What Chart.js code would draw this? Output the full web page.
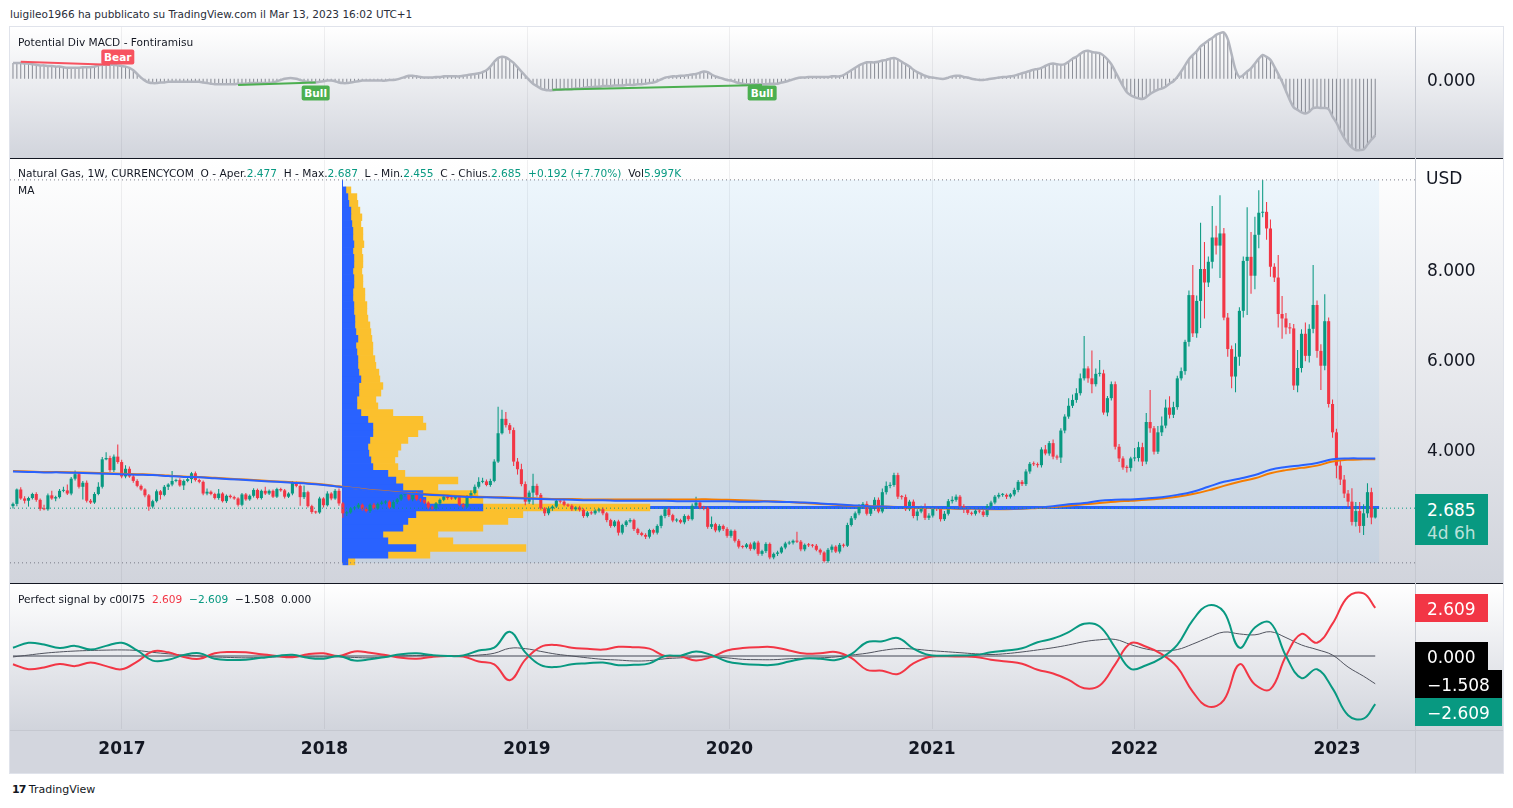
<!DOCTYPE html>
<html>
<head>
<meta charset="utf-8">
<title>Natural Gas, 1W, CURRENCYCOM</title>
<script src="https://cdn.jsdelivr.net/npm/chart.js@4.4.1/dist/chart.umd.min.js"></script>
<style>
  body { margin:0; width:1513px; height:808px; overflow:hidden; background:#fff; font-family:"DejaVu Sans", sans-serif; color:#131722; position:relative; }
  .pane { position:absolute; left:10px; width:1493px; background:linear-gradient(#ffffff, #d1d4dc); }
  .rule { position:absolute; background:#c5c8d0; }
  .sep { position:absolute; left:10px; width:1493px; height:1px; background:#131722; }
  canvas { position:absolute; left:10px; }
  .legend { position:absolute; left:18px; font-size:10.6px; line-height:12px; white-space:pre; }
  .up { color:#089981; }
  .dn { color:#f23645; }
  .badge { position:absolute; left:1415px; color:#fff; font-size:17px; line-height:28px; padding:0 12px; white-space:pre; }
  .marker { position:absolute; color:#fff; font-size:10.5px; font-weight:bold; line-height:15px; padding:0 3px; border-radius:2px; transform:translate(-50%,-50%); }
</style>
</head>
<body>
<div style="position:absolute;left:10px;top:8px;font-size:10.5px;line-height:12px;color:#2a2e39">luigileo1966 ha pubblicato su TradingView.com il Mar 13, 2023 16:02 UTC+1</div>
<div class="pane" style="top:27px;height:131px"></div>
<div class="pane" style="top:159px;height:424px"></div>
<div class="pane" style="top:584px;height:146px"></div>
<div style="position:absolute;left:10px;top:730px;width:1493px;height:43px;background:#d3d6de"></div>

<canvas id="macd" width="1493" height="131" style="top:27px"></canvas>
<canvas id="main" width="1493" height="422" style="top:160px"></canvas>
<canvas id="sig" width="1493" height="189" style="top:584px"></canvas>

<div class="sep" style="top:158px"></div>
<div class="sep" style="top:583px"></div>
<div class="rule" style="left:1415px;top:27px;width:1px;height:746px"></div>
<div class="rule" style="left:10px;top:730px;width:1493px;height:1px"></div>
<div style="position:absolute;left:9px;top:26px;width:1495px;height:748px;border:1px solid #e0e3eb;box-sizing:border-box"></div>

<div class="legend" style="top:36px">Potential Div MACD - Fontiramisu</div>
<div class="legend" style="top:167px">Natural Gas, 1W, CURRENCYCOM  O - Aper.<span class="up">2.477</span>  H - Max.<span class="up">2.687</span>  L - Min.<span class="up">2.455</span>  C - Chius.<span class="up">2.685</span>  <span class="up">+0.192 (+7.70%)</span>  Vol<span class="up">5.997K</span></div>
<div class="legend" style="top:184px">MA</div>
<div class="legend" style="top:593px">Perfect signal by c00l75  <span class="dn">2.609</span>  <span class="up">−2.609</span>  −1.508  0.000</div>
<div style="position:absolute;left:1426px;top:168px;font-size:17px;line-height:20px">USD</div>
<div style="position:absolute;left:12px;top:783px;font-size:11px;line-height:14px;color:#131722"><b style="font-weight:900;letter-spacing:-1px">17</b> TradingView</div>

<script>
// weekly bars, x = fractional year
const t0 = 2016.4617;
const wk = 7 / 365.25;
const xMin = 2016.447, xMax = 2023.385;
const years = [2017, 2018, 2019, 2020, 2021, 2022, 2023];
const priceTicks = [4, 6, 8];

const firstOpen = 2.73;
const closes = [
  2.78,3.10,2.90,2.85,2.91,3.00,2.87,2.67,2.66,2.97,
  2.90,2.93,3.07,3.08,3.01,3.34,3.44,3.16,3.25,2.85,
  2.81,3.00,3.16,3.77,3.80,3.53,3.83,3.71,3.39,3.56,
  3.39,3.29,3.18,3.10,2.97,2.72,2.84,3.06,2.98,3.16,
  3.21,3.29,3.31,3.19,3.29,3.33,3.46,3.31,3.27,3.01,
  3.05,3.00,2.91,3.01,2.84,2.96,2.93,2.90,2.76,2.99,
  2.88,2.96,3.09,2.91,3.07,3.01,3.07,2.94,3.11,3.08,
  2.94,3.01,3.25,3.18,2.93,3.04,2.73,2.60,2.59,2.90,
  2.75,3.01,2.90,3.07,2.79,2.57,2.59,2.68,2.70,2.76,
  2.67,2.62,2.76,2.68,2.78,2.81,2.83,2.70,2.82,2.88,
  2.98,3.00,2.88,3.02,2.88,2.86,2.81,2.70,2.68,2.79,
  2.87,2.94,2.91,2.90,2.93,2.76,2.72,2.94,3.02,3.16,
  3.27,3.28,3.20,3.29,3.72,4.35,4.67,4.53,4.42,3.72,
  3.55,3.22,2.83,3.03,3.18,2.98,2.68,2.57,2.68,2.72,
  2.85,2.83,2.76,2.74,2.66,2.70,2.65,2.51,2.59,2.57,
  2.63,2.66,2.57,2.42,2.29,2.39,2.14,2.31,2.39,2.42,
  2.22,2.13,2.09,2.05,2.20,2.14,2.29,2.51,2.66,2.53,
  2.41,2.42,2.37,2.51,2.44,2.74,2.81,2.70,2.69,2.27,
  2.33,2.19,2.29,2.22,2.07,2.18,1.96,1.83,1.82,1.88,
  1.78,1.92,1.67,1.73,1.89,1.59,1.67,1.70,1.81,1.90,
  1.92,1.96,1.94,1.77,1.87,1.86,1.85,1.76,1.70,1.51,
  1.76,1.83,1.72,1.87,1.85,2.31,2.46,2.57,2.72,2.78,
  2.56,2.68,2.87,2.61,3.04,3.18,3.20,3.42,2.94,2.93,
  2.66,2.83,2.51,2.61,2.70,2.47,2.52,2.68,2.67,2.44,
  2.56,2.84,2.87,2.94,2.73,2.66,2.58,2.56,2.63,2.61,
  2.53,2.73,2.81,2.94,2.98,2.98,2.94,2.99,3.09,3.27,
  3.22,3.50,3.67,3.66,3.64,3.99,3.90,4.13,3.83,3.81,
  4.41,4.72,4.96,5.09,5.24,5.57,5.79,5.57,5.44,5.67,
  5.68,4.81,5.13,5.44,4.05,3.79,3.59,3.58,3.79,3.80,
  4.04,3.72,4.60,4.46,3.94,4.37,4.52,4.92,4.76,4.93,
  5.57,5.73,6.38,7.42,6.57,7.29,8.00,7.70,8.16,8.70,
  8.52,8.79,6.92,6.22,5.61,6.05,7.07,8.18,8.27,7.85,
  8.76,9.25,9.27,8.90,8.05,7.81,7.00,6.90,6.70,6.68,
  5.41,5.80,6.56,6.07,6.67,7.20,6.18,5.85,6.84,5.00,
  4.37,3.63,3.32,3.01,2.83,2.38,2.62,2.29,2.57,3.04,
  2.477,2.685
];
const wickUp = [
  0.03,0.02,0.05,0.05,0.03,0.03,0.04,0.03,0.09,0.04,
  0.10,0.03,0.04,0.08,0.13,0.04,0.08,0.03,0.04,0.05,
  0.04,0.04,0.10,0.05,0.13,0.05,0.05,0.27,0.05,0.08,
  0.05,0.04,0.04,0.03,0.03,0.03,0.03,0.04,0.03,0.04,
  0.03,0.22,0.03,0.04,0.03,0.03,0.03,0.04,0.03,0.03,
  0.07,0.03,0.03,0.10,0.03,0.03,0.03,0.03,0.03,0.03,
  0.03,0.03,0.04,0.03,0.03,0.09,0.03,0.03,0.03,0.03,
  0.03,0.03,0.04,0.03,0.03,0.15,0.03,0.03,0.03,0.04,
  0.03,0.05,0.03,0.04,0.05,0.03,0.04,0.03,0.03,0.04,
  0.03,0.04,0.03,0.04,0.03,0.04,0.03,0.03,0.04,0.03,
  0.04,0.03,0.04,0.03,0.04,0.03,0.03,0.03,0.04,0.03,
  0.03,0.04,0.03,0.04,0.03,0.03,0.04,0.04,0.06,0.05,
  0.10,0.08,0.04,0.05,0.05,0.59,0.20,0.15,0.05,0.06,
  0.08,0.12,0.06,0.05,0.27,0.05,0.04,0.03,0.04,0.03,
  0.03,0.03,0.04,0.03,0.03,0.03,0.04,0.03,0.03,0.04,
  0.03,0.03,0.04,0.03,0.03,0.03,0.04,0.03,0.03,0.04,
  0.03,0.03,0.03,0.04,0.03,0.03,0.04,0.03,0.05,0.04,
  0.03,0.04,0.03,0.04,0.03,0.05,0.13,0.03,0.04,0.03,
  0.17,0.03,0.04,0.03,0.04,0.03,0.03,0.04,0.03,0.03,
  0.04,0.03,0.04,0.03,0.04,0.03,0.03,0.04,0.03,0.04,
  0.04,0.03,0.20,0.04,0.03,0.04,0.03,0.04,0.03,0.03,
  0.04,0.05,0.03,0.04,0.03,0.05,0.05,0.04,0.05,0.04,
  0.06,0.05,0.06,0.05,0.08,0.10,0.06,0.05,0.05,0.04,
  0.06,0.04,0.05,0.05,0.04,0.09,0.05,0.05,0.04,0.04,
  0.06,0.05,0.08,0.05,0.04,0.04,0.05,0.03,0.04,0.04,
  0.04,0.05,0.04,0.04,0.05,0.04,0.03,0.03,0.05,0.04,
  0.04,0.05,0.04,0.05,0.04,0.05,0.10,0.05,0.08,0.04,
  0.05,0.05,0.17,0.12,0.11,0.11,0.72,0.05,0.62,0.12,
  0.30,0.08,0.05,0.06,0.06,0.06,0.05,0.05,0.04,0.22,
  0.12,0.10,0.20,0.71,0.05,0.14,0.20,0.18,0.25,0.12,
  0.06,0.08,0.05,0.10,0.67,0.12,1.03,0.60,0.12,0.70,
  0.26,0.85,0.12,0.10,0.08,0.30,0.08,0.10,1.10,0.55,
  0.40,0.50,0.71,0.22,0.20,0.08,0.50,0.40,0.12,0.10,
  0.10,0.40,0.10,0.25,0.10,0.89,0.10,0.15,0.60,0.08,
  0.10,0.08,0.12,0.10,0.08,0.30,0.20,0.20,0.20,0.20,
  0.10,0.002
];
const wickDown = [
  0.05,0.05,0.03,0.06,0.13,0.03,0.04,0.04,0.02,0.03,
  0.03,0.06,0.03,0.03,0.03,0.04,0.04,0.04,0.28,0.04,
  0.03,0.03,0.03,0.04,0.02,0.04,0.04,0.04,0.04,0.04,
  0.03,0.04,0.03,0.03,0.04,0.09,0.04,0.03,0.10,0.03,
  0.07,0.04,0.03,0.03,0.10,0.03,0.09,0.03,0.03,0.04,
  0.04,0.03,0.03,0.04,0.03,0.04,0.03,0.03,0.04,0.03,
  0.03,0.03,0.04,0.03,0.03,0.03,0.03,0.03,0.03,0.03,
  0.04,0.03,0.04,0.03,0.19,0.04,0.03,0.04,0.03,0.03,
  0.05,0.03,0.04,0.03,0.05,0.10,0.06,0.03,0.04,0.03,
  0.04,0.03,0.04,0.03,0.03,0.03,0.04,0.03,0.03,0.04,
  0.03,0.04,0.03,0.04,0.03,0.04,0.03,0.04,0.03,0.04,
  0.04,0.03,0.04,0.03,0.03,0.03,0.04,0.03,0.04,0.03,
  0.04,0.03,0.03,0.04,0.03,0.03,0.03,0.05,0.08,0.10,
  0.12,0.05,0.08,0.05,0.27,0.04,0.03,0.06,0.04,0.05,
  0.03,0.04,0.03,0.03,0.04,0.03,0.04,0.04,0.03,0.03,
  0.03,0.04,0.04,0.05,0.04,0.03,0.06,0.04,0.04,0.03,
  0.04,0.04,0.03,0.05,0.04,0.04,0.04,0.05,0.05,0.04,
  0.04,0.04,0.03,0.04,0.04,0.03,0.04,0.04,0.05,0.04,
  0.05,0.04,0.04,0.04,0.04,0.04,0.04,0.04,0.03,0.03,
  0.04,0.03,0.04,0.04,0.04,0.04,0.04,0.05,0.03,0.04,
  0.03,0.04,0.03,0.04,0.04,0.04,0.04,0.03,0.05,0.03,
  0.04,0.06,0.03,0.04,0.04,0.03,0.03,0.04,0.04,0.04,
  0.04,0.05,0.05,0.04,0.04,0.05,0.05,0.04,0.05,0.05,
  0.04,0.04,0.05,0.10,0.04,0.05,0.05,0.04,0.05,0.05,
  0.04,0.04,0.05,0.04,0.04,0.08,0.04,0.04,0.04,0.04,
  0.04,0.04,0.05,0.04,0.04,0.04,0.05,0.04,0.04,0.05,
  0.04,0.04,0.05,0.04,0.05,0.05,0.04,0.05,0.06,0.05,
  0.12,0.06,0.05,0.05,0.06,0.05,0.05,0.10,0.20,0.05,
  0.06,0.05,0.08,0.05,0.06,0.08,0.05,0.10,0.08,0.06,
  0.08,0.10,0.06,0.10,0.06,0.05,0.08,0.06,0.08,0.07,
  0.06,0.05,0.08,0.10,0.08,0.10,0.60,0.80,0.10,0.15,
  0.20,0.72,0.06,0.17,0.26,0.35,0.20,0.15,1.20,0.40,
  0.30,0.30,0.10,0.25,0.22,0.10,0.30,0.45,0.15,0.12,
  0.10,0.15,0.10,0.12,0.15,0.10,0.15,0.54,0.10,0.08,
  0.12,0.28,0.12,0.10,0.12,0.08,0.10,0.15,0.20,0.10,
  0.15,0.022
];

// long moving averages, one value every 4 weeks
const maBlue = [
  3.50,3.49,3.48,3.48,3.47,3.46,3.45,3.44,3.43,3.42,
  3.40,3.38,3.37,3.35,3.33,3.31,3.29,3.27,3.25,3.23,
  3.20,3.16,3.12,3.08,3.05,3.02,3.00,2.98,2.96,2.94,
  2.93,2.92,2.91,2.90,2.89,2.88,2.87,2.86,2.86,2.85,
  2.85,2.85,2.85,2.84,2.84,2.84,2.84,2.83,2.83,2.83,
  2.82,2.81,2.79,2.77,2.75,2.73,2.72,2.71,2.71,2.70,
  2.69,2.68,2.68,2.67,2.67,2.68,2.70,2.73,2.77,2.80,
  2.85,2.87,2.88,2.90,2.93,2.98,3.05,3.16,3.27,3.34,
  3.42,3.54,3.60,3.64,3.69,3.77,3.79,3.79,3.79
];
const maOrange = [
  3.51,3.50,3.49,3.49,3.48,3.47,3.46,3.45,3.44,3.43,
  3.41,3.39,3.38,3.36,3.34,3.32,3.30,3.28,3.26,3.24,
  3.21,3.17,3.13,3.09,3.06,3.03,3.01,2.99,2.97,2.95,
  2.94,2.93,2.92,2.91,2.90,2.89,2.89,2.88,2.88,2.88,
  2.88,2.88,2.88,2.88,2.88,2.88,2.87,2.86,2.85,2.84,
  2.82,2.80,2.78,2.76,2.74,2.73,2.72,2.71,2.70,2.69,
  2.68,2.67,2.67,2.66,2.66,2.67,2.69,2.71,2.74,2.77,
  2.80,2.83,2.85,2.87,2.90,2.94,3.00,3.08,3.18,3.27,
  3.35,3.46,3.53,3.58,3.63,3.72,3.76,3.77,3.77
];

// Potential Div MACD, weekly
const macd = [
  0.26,0.26,0.26,0.25,0.25,0.24,0.23,0.22,0.22,0.21,
  0.21,0.20,0.20,0.19,0.18,0.18,0.18,0.18,0.19,0.19,
  0.19,0.20,0.22,0.23,0.23,0.23,0.23,0.22,0.21,0.20,
  0.18,0.14,0.08,0.02,-0.03,-0.06,-0.07,-0.07,-0.06,-0.06,
  -0.05,-0.05,-0.05,-0.05,-0.05,-0.05,-0.05,-0.05,-0.05,-0.06,
  -0.07,-0.08,-0.09,-0.09,-0.09,-0.09,-0.09,-0.09,-0.08,-0.08,
  -0.08,-0.07,-0.07,-0.07,-0.07,-0.07,-0.07,-0.06,-0.04,-0.02,
  0.00,0.01,0.01,0.00,-0.02,-0.04,-0.05,-0.06,-0.06,-0.05,
  -0.04,-0.03,-0.03,-0.04,-0.06,-0.07,-0.07,-0.06,-0.05,-0.04,
  -0.03,-0.03,-0.03,-0.03,-0.03,-0.03,-0.03,-0.02,-0.02,-0.01,
  0.01,0.03,0.05,0.05,0.04,0.03,0.02,0.02,0.02,0.03,
  0.03,0.04,0.04,0.04,0.04,0.04,0.05,0.06,0.07,0.08,
  0.09,0.11,0.14,0.20,0.28,0.34,0.36,0.35,0.31,0.26,
  0.19,0.12,0.05,-0.02,-0.08,-0.12,-0.16,-0.18,-0.19,-0.19,
  -0.18,-0.18,-0.17,-0.17,-0.17,-0.16,-0.16,-0.15,-0.14,-0.14,
  -0.13,-0.13,-0.12,-0.12,-0.12,-0.11,-0.11,-0.11,-0.10,-0.10,
  -0.10,-0.09,-0.09,-0.08,-0.07,-0.06,-0.04,-0.01,0.02,0.03,
  0.04,0.04,0.05,0.05,0.06,0.07,0.08,0.10,0.12,0.11,
  0.07,0.04,0.02,0.00,-0.02,-0.03,-0.05,-0.07,-0.08,-0.09,
  -0.09,-0.09,-0.09,-0.09,-0.09,-0.08,-0.08,-0.08,-0.06,-0.05,
  -0.03,-0.01,0.01,0.02,0.02,0.03,0.03,0.03,0.03,0.03,
  0.03,0.04,0.04,0.04,0.06,0.10,0.14,0.18,0.22,0.25,
  0.27,0.27,0.27,0.28,0.30,0.31,0.33,0.34,0.32,0.28,
  0.24,0.20,0.15,0.11,0.08,0.05,0.03,0.02,0.01,0.00,
  0.00,0.02,0.04,0.05,0.05,0.03,0.02,0.00,-0.01,-0.02,
  -0.02,-0.01,0.00,0.01,0.02,0.03,0.03,0.04,0.05,0.07,
  0.09,0.11,0.13,0.15,0.16,0.18,0.21,0.24,0.25,0.24,
  0.23,0.24,0.28,0.33,0.36,0.41,0.45,0.46,0.44,0.43,
  0.42,0.38,0.32,0.24,0.12,0.00,-0.12,-0.22,-0.27,-0.30,
  -0.32,-0.33,-0.30,-0.25,-0.21,-0.18,-0.16,-0.13,-0.08,-0.04,
  0.03,0.12,0.22,0.32,0.39,0.45,0.53,0.58,0.63,0.67,
  0.72,0.75,0.76,0.65,0.40,0.15,0.03,0.06,0.12,0.17,
  0.25,0.33,0.39,0.36,0.31,0.20,0.08,-0.05,-0.20,-0.35,
  -0.47,-0.51,-0.55,-0.57,-0.54,-0.48,-0.47,-0.48,-0.48,-0.50,
  -0.62,-0.72,-0.85,-0.97,-1.06,-1.13,-1.17,-1.17,-1.16,-1.08,
  -1.00,-0.93
];
// divergence marks: [startWeek, startValue, endWeek, endValue, labelWeek, labelValue]
const bearDiv = [[2, 0.28, 25, 0.23, 27, 0.36]];
const bullDiv = [[58, -0.10, 78, -0.06, 78, -0.23], [139, -0.18, 193, -0.10, 193, -0.23]];

// Perfect signal by c00l75, one value every 4 weeks
const sigRed = [
  -0.45,-0.72,-0.62,-0.43,-0.55,-0.35,-0.55,-0.72,-0.30,0.25,
  0.20,-0.05,-0.15,0.15,0.22,0.20,0.10,0.00,-0.07,0.10,
  0.15,0.00,0.25,0.18,0.05,-0.10,-0.15,-0.05,0.00,-0.03,
  -0.30,-0.45,-1.32,-0.20,0.50,0.60,0.45,0.40,0.35,0.50,
  0.48,0.40,0.00,-0.02,-0.25,-0.05,0.30,0.43,0.48,0.48,
  0.30,0.13,0.15,0.22,-0.10,-0.75,-0.80,-0.98,-0.40,-0.05,
  -0.02,-0.03,-0.05,-0.20,-0.30,-0.42,-0.75,-0.95,-1.30,-1.75,
  -1.60,-0.45,0.70,0.50,0.10,-0.60,-1.95,-2.75,-2.40,-0.45,
  -1.55,-1.80,0.00,1.20,0.72,1.76,3.22,3.40,2.609
];
const sigGreen = [
  0.45,0.72,0.62,0.43,0.55,0.35,0.55,0.72,0.30,-0.25,
  -0.20,0.05,0.15,-0.15,-0.22,-0.20,-0.10,0.00,0.07,-0.10,
  -0.15,0.00,-0.25,-0.18,-0.05,0.10,0.15,0.05,0.00,0.03,
  0.30,0.45,1.32,0.20,-0.50,-0.60,-0.45,-0.40,-0.35,-0.50,
  -0.48,-0.40,0.00,0.02,0.25,0.05,-0.30,-0.43,-0.48,-0.48,
  -0.30,-0.13,-0.15,-0.22,0.10,0.75,0.80,0.98,0.40,0.05,
  0.02,0.03,0.05,0.20,0.30,0.42,0.75,0.95,1.30,1.75,
  1.60,0.45,-0.70,-0.50,-0.10,0.60,1.95,2.75,2.40,0.45,
  1.55,1.80,0.00,-1.20,-0.72,-1.76,-3.22,-3.40,-2.609
];
const sigBase = [
  -0.05,0.05,0.15,0.22,0.27,0.30,0.32,0.33,0.30,0.20,
  0.12,0.05,0.00,-0.05,-0.08,-0.10,-0.08,-0.05,-0.03,-0.05,
  -0.05,-0.05,-0.08,-0.10,-0.05,0.00,0.02,0.02,0.00,0.00,
  0.05,0.15,0.42,0.40,0.25,0.10,0.00,-0.10,-0.18,-0.22,
  -0.27,-0.25,-0.15,-0.10,-0.05,-0.05,-0.10,-0.18,-0.20,-0.20,
  -0.15,-0.12,-0.10,-0.05,0.05,0.15,0.30,0.40,0.38,0.30,
  0.24,0.18,0.12,0.08,0.13,0.22,0.33,0.45,0.60,0.78,
  0.88,0.90,0.62,0.38,0.28,0.35,0.65,1.00,1.30,1.20,
  1.15,1.32,1.00,0.60,0.35,0.05,-0.60,-1.10,-1.508
];
const sigZero = 0;

// volume profile (visible range, from week 85)
const vpStart = 85;
const vpPrice = [
  1.50,1.65,1.80,1.95,2.10,2.25,2.40,2.55,2.70,2.85,
  3.00,3.15,3.30,3.45,3.60,3.75,3.90,4.05,4.20,4.35,
  4.50,4.65,4.80,4.95,5.10,5.25,5.40,5.55,5.70,5.85,
  6.00,6.15,6.30,6.45,6.60,6.75,6.90,7.05,7.20,7.35,
  7.50,7.65,7.80,7.95,8.10,8.25,8.40,8.55,8.70,8.85,
  9.00,9.15,9.30,9.45,9.60,9.75
];
const vpBuy = [
  5,45,73,45,40,60,65,73,140,83,
  80,60,53,45,30,28,26,25,27,30,
  30,25,18,14,14,16,16,18,16,15,
  15,14,13,15,13,12,12,11,11,10,
  10,11,11,10,11,11,10,11,10,10,
  9,8,8,6,5,3
];
const vpSell = [
  7,42,110,65,55,80,100,107,167,57,
  55,35,62,17,25,24,29,33,38,45,
  53,55,32,21,19,22,24,19,20,18,
  17,16,17,14,15,15,13,13,13,12,
  12,9,9,9,9,9,9,10,10,10,
  9,11,9,9,9,5
];

const green = '#089981', red = '#f23645';
const gridColor = 'rgba(42,46,57,0.07)';
const FONT = "'DejaVu Sans', sans-serif";
Chart.defaults.font.family = FONT;

const weekX = i => t0 + i * wk;
const opens = closes.map((c, i) => i === 0 ? firstOpen : closes[i - 1]);
const highs = closes.map((c, i) => Math.max(opens[i], c) + wickUp[i]);
const lows = closes.map((c, i) => Math.min(opens[i], c) - wickDown[i]);
const candleColor = closes.map((c, i) => c >= opens[i] ? green : red);
const lastWeek = closes.length - 1;
const lastClose = closes[lastWeek];
const rangeHigh = Math.max(...highs), rangeLow = Math.min(...lows);
const sampleX = k => weekX(Math.min(k * 4, lastWeek));
const sampled = arr => arr.map((v, k) => ({x: sampleX(k), y: v}));
let pocIdx = 0;
vpPrice.forEach((p, i) => { if (vpBuy[i] + vpSell[i] > vpBuy[pocIdx] + vpSell[pocIdx]) pocIdx = i; });
const pocPrice = vpPrice[pocIdx];

// shared x axis for every pane
function timeAxis(showLabels) {
  return {
    type: 'linear', min: xMin, max: xMax, offset: false,
    afterBuildTicks: s => { s.ticks = years.map(v => ({value: v})); },
    grid: {color: gridColor, drawTicks: false, offset: false},
    border: {display: false},
    ticks: showLabels
      ? {display: true, padding: 10, color: '#131722', font: {size: 17, weight: 'bold'}, callback: v => String(v), maxRotation: 0}
      : {display: false},
    afterFit: s => { s.height = showLabels ? 44 : 0; s.paddingLeft = 0; s.paddingRight = 0; }
  };
}
function priceAxis(min, max, ticks, fmt) {
  return {
    type: 'linear', position: 'right', min, max, offset: false,
    afterBuildTicks: s => { s.ticks = ticks.map(v => ({value: v})); },
    grid: {display: false, drawTicks: false, offset: false},
    border: {display: false},
    ticks: {padding: 12, labelOffset: 2.5, color: '#131722', font: {size: 17}, callback: fmt},
    afterFit: s => { s.width = 88; s.paddingTop = 0; s.paddingBottom = 0; }
  };
}
const common = {
  responsive: false, animation: false, devicePixelRatio: 1,
  layout: {padding: 0, autoPadding: false},
  plugins: {legend: {display: false}, tooltip: {enabled: false}},
  events: []
};

// ---------- MACD pane ----------
const macdDs = [
  {type: 'bar', data: macd.map((v, i) => ({x: weekX(i), y: v})), backgroundColor: '#8b8e97',
   grouped: false, barPercentage: 0.27, categoryPercentage: 1, order: 5},
  {type: 'line', data: macd.map((v, i) => ({x: weekX(i), y: v})), borderColor: '#b2b5be', borderWidth: 2.5,
   pointRadius: 0, tension: 0.3, order: 2}
];
bearDiv.forEach(d => macdDs.push({type: 'line', data: [{x: weekX(d[0]), y: d[1]}, {x: weekX(d[2]), y: d[3]}],
  borderColor: '#f7525f', borderWidth: 2, pointRadius: 0, order: 1}));
bullDiv.forEach(d => macdDs.push({type: 'line', data: [{x: weekX(d[0]), y: d[1]}, {x: weekX(d[2]), y: d[3]}],
  borderColor: '#4caf50', borderWidth: 2, pointRadius: 0, order: 1}));

const macdChart = new Chart(document.getElementById('macd'), {
  type: 'bar',
  data: {datasets: macdDs},
  options: Object.assign({}, common, {
    scales: {x: timeAxis(false), y: priceAxis(-1.3, 0.85, [0], v => v.toFixed(3))}
  })
});

// ---------- main price pane ----------
const valueArea = {
  id: 'valueArea',
  beforeDatasetsDraw(chart) {
    const {ctx, scales: {x, y}} = chart;
    const l = x.getPixelForValue(weekX(vpStart)), r = x.getPixelForValue(weekX(lastWeek + 1));
    const t = y.getPixelForValue(rangeHigh), b = y.getPixelForValue(rangeLow);
    ctx.save();
    ctx.fillStyle = 'rgba(33,150,243,0.07)';
    ctx.fillRect(l, t, r - l, b - t);
    ctx.fillStyle = '#2962ff';
    ctx.fillRect(Math.round(l) - 1, t, 1, b - t);
    ctx.restore();
  }
};
const hLine = (y, color, dash, from, to, order) => ({
  type: 'line', data: [{x: from, y}, {x: to, y}], borderColor: color, borderWidth: 1,
  borderDash: dash, pointRadius: 0, order
});
const pxPerYear = 1405 / (xMax - xMin);
const vpOrigin = weekX(vpStart);

const mainChart = new Chart(document.getElementById('main'), {
  type: 'bar',
  data: {datasets: [
    {type: 'line', data: [{x: vpOrigin, y: pocPrice}, {x: weekX(lastWeek + 1), y: pocPrice}],
     borderColor: '#2962ff', borderWidth: 3, pointRadius: 0, order: 40},
    {type: 'bar', indexAxis: 'y', xAxisID: 'xv', yAxisID: 'yv', grouped: false,
     data: vpPrice.map((p, i) => ({y: p, x: [vpBuy[i], vpBuy[i] + vpSell[i]]})),
     backgroundColor: '#fbc02d', barPercentage: 1, categoryPercentage: 1, order: 30},
    {type: 'bar', indexAxis: 'y', xAxisID: 'xv', yAxisID: 'yv', grouped: false,
     data: vpPrice.map((p, i) => ({y: p, x: [0, vpBuy[i]]})),
     backgroundColor: '#2962ff', barPercentage: 1, categoryPercentage: 1, order: 29},
    {type: 'bar', grouped: false, data: closes.map((c, i) => ({x: weekX(i), y: [lows[i], highs[i]]})),
     backgroundColor: candleColor, barPercentage: 0.27, categoryPercentage: 1, order: 10},
    {type: 'bar', grouped: false, data: closes.map((c, i) => ({x: weekX(i), y: [opens[i], c]})),
     backgroundColor: candleColor, barPercentage: 0.8, categoryPercentage: 1, minBarLength: 1, order: 9},
    {type: 'line', data: sampled(maOrange), borderColor: '#f57c00', borderWidth: 2, pointRadius: 0, tension: 0.4, order: 4},
    {type: 'line', data: sampled(maBlue), borderColor: '#2962ff', borderWidth: 2, pointRadius: 0, tension: 0.4, order: 3},
    hLine(rangeHigh, '#787b86', [1, 3], xMin, xMax, 2),
    hLine(rangeLow, '#787b86', [1, 3], xMin, xMax, 2),
    hLine(lastClose, green, [1, 3], xMin, xMax, 1)
  ]},
  options: Object.assign({}, common, {
    scales: {
      x: timeAxis(false),
      y: priceAxis(1.044, 10.422, priceTicks, v => v.toFixed(3)),
      xv: {type: 'linear', position: 'top', display: false, offset: false,
           min: -(vpOrigin - xMin) * pxPerYear, max: (xMax - vpOrigin) * pxPerYear},
      yv: {type: 'linear', position: 'left', display: false, offset: false, min: 1.044, max: 10.422}
    }
  }),
  plugins: [valueArea]
});

// ---------- Perfect signal pane ----------
const sigChart = new Chart(document.getElementById('sig'), {
  type: 'line',
  data: {datasets: [
    {data: [{x: weekX(0), y: sigZero}, {x: weekX(lastWeek), y: sigZero}], borderColor: '#9598a1', borderWidth: 2, pointRadius: 0, order: 5},
    {data: sampled(sigBase), borderColor: '#50535e', borderWidth: 1, pointRadius: 0, tension: 0.4, order: 4},
    {data: sampled(sigRed), borderColor: red, borderWidth: 2, pointRadius: 0, tension: 0.4, order: 3},
    {data: sampled(sigGreen), borderColor: green, borderWidth: 2, pointRadius: 0, tension: 0.4, order: 2}
  ]},
  options: Object.assign({}, common, {
    scales: {x: timeAxis(true), y: priceAxis(-3.967, 3.913, [], v => '')}
  })
});

// ---------- badges and markers placed from the scales ----------
function addDiv(cls, html, css) {
  const d = document.createElement('div');
  d.className = cls; d.innerHTML = html;
  Object.assign(d.style, css);
  document.body.appendChild(d);
  return d;
}
const mainTop = 160, sigTop = 584, macdTop = 27;
{
  const y = mainTop + mainChart.scales.y.getPixelForValue(lastClose);
  addDiv('badge', lastClose.toFixed(3) + '<br><span style="color:rgba(255,255,255,0.72)">4d 6h</span>',
    {top: (y - 14.5) + 'px', background: green, lineHeight: '23px', paddingTop: '5px', paddingBottom: '0px'});
}
{
  const items = [
    {v: sigRed[sigRed.length - 1], bg: red},
    {v: sigZero, bg: '#000'},
    {v: sigBase[sigBase.length - 1], bg: '#000'},
    {v: sigGreen[sigGreen.length - 1], bg: green}
  ];
  let prevBottom = -1e9;
  items.forEach(it => {
    let top = sigTop + sigChart.scales.y.getPixelForValue(it.v) - 14;
    if (top < prevBottom) top = prevBottom;
    prevBottom = top + 28;
    addDiv('badge', it.v.toFixed(3).replace('-', '−'), {top: top + 'px', background: it.bg, lineHeight: '30px', height: '28px'});
  });
}
const markerPos = (week, value) => ({
  left: (10 + macdChart.scales.x.getPixelForValue(weekX(week))) + 'px',
  top: (macdTop + macdChart.scales.y.getPixelForValue(value)) + 'px'
});
bearDiv.forEach(d => addDiv('marker', 'Bear', Object.assign({background: '#f7525f'}, markerPos(d[4], d[5]))));
bullDiv.forEach(d => addDiv('marker', 'Bull', Object.assign({background: '#4caf50'}, markerPos(d[4], d[5]))));
</script>
</body>
</html>
